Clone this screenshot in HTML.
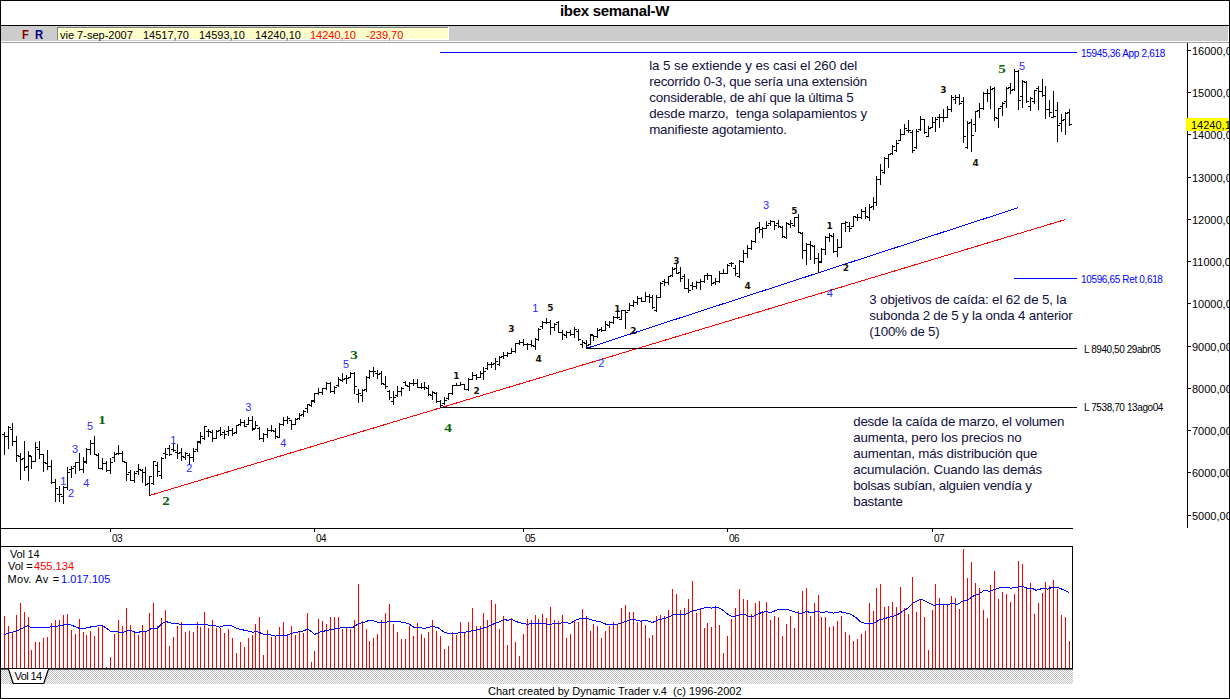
<!DOCTYPE html>
<html><head><meta charset="utf-8"><title>ibex semanal-W</title>
<style>
html,body{margin:0;padding:0;background:#fff;}
body{width:1230px;height:699px;overflow:hidden;position:relative;font-family:"Liberation Sans",sans-serif;}
#wrap{position:absolute;left:0;top:0;width:1230px;height:699px;overflow:hidden;background:#fff;}
svg{position:absolute;left:0;top:0;}
.t{position:absolute;white-space:nowrap;line-height:1;}
.ui{font-size:11px;color:#000;}
.note{position:absolute;font-size:13.33px;line-height:16px;color:#10103c;white-space:nowrap;}
.lab{font-family:"Liberation Sans",sans-serif;font-size:10px;}
</style></head><body><div id="wrap">

<svg width="1230" height="699" viewBox="0 0 1230 699" shape-rendering="crispEdges">
<defs><pattern id="dz" width="2" height="2" patternUnits="userSpaceOnUse"><rect width="2" height="2" fill="#fff"/><rect width="1" height="1" fill="#c0c0c0"/><rect x="1" y="1" width="1" height="1" fill="#c0c0c0"/></pattern></defs>
<rect x="0" y="0" width="1230" height="699" fill="#fff"/>
<rect x="0" y="0" width="1230" height="1" fill="#000"/>
<rect x="0" y="0" width="1" height="699" fill="#000"/>
<rect x="1229" y="0" width="1" height="699" fill="#000"/>
<rect x="0" y="698" width="1230" height="1" fill="#000"/>
<rect x="1" y="25" width="1228" height="1" fill="#000"/>
<rect x="1" y="26" width="1227" height="15" fill="#cccccc"/>
<rect x="1" y="41" width="1227" height="1" fill="#ffffff"/>
<rect x="1" y="42" width="1228" height="1" fill="#a0a0a0"/>
<rect x="57" y="27" width="392" height="13" fill="#ffffcc"/>
<rect x="57" y="27" width="391" height="1" fill="#808080"/>
<rect x="57" y="27" width="1" height="13" fill="#808080"/>
<rect x="58" y="39" width="391" height="1" fill="#fff"/>
<rect x="448" y="27" width="1" height="13" fill="#fff"/>
<rect x="1187" y="43" width="1" height="485" fill="#000"/>
<rect x="1188" y="50" width="3" height="1" fill="#000"/>
<rect x="1188" y="92" width="3" height="1" fill="#000"/>
<rect x="1188" y="134" width="3" height="1" fill="#000"/>
<rect x="1188" y="177" width="3" height="1" fill="#000"/>
<rect x="1188" y="219" width="3" height="1" fill="#000"/>
<rect x="1188" y="261" width="3" height="1" fill="#000"/>
<rect x="1188" y="303" width="3" height="1" fill="#000"/>
<rect x="1188" y="346" width="3" height="1" fill="#000"/>
<rect x="1188" y="388" width="3" height="1" fill="#000"/>
<rect x="1188" y="430" width="3" height="1" fill="#000"/>
<rect x="1188" y="472" width="3" height="1" fill="#000"/>
<rect x="1188" y="515" width="3" height="1" fill="#000"/>
<rect x="1" y="528" width="1072" height="1" fill="#000"/>
<rect x="110" y="529" width="1" height="3" fill="#000"/>
<rect x="314" y="529" width="1" height="3" fill="#000"/>
<rect x="523" y="529" width="1" height="3" fill="#000"/>
<rect x="727" y="529" width="1" height="3" fill="#000"/>
<rect x="932" y="529" width="1" height="3" fill="#000"/>
<rect x="1" y="546" width="1072" height="1" fill="#000"/>
<rect x="1072" y="546" width="1" height="123" fill="#000"/>
<rect x="1" y="668" width="1072" height="1" fill="#000"/>
<rect x="1" y="669" width="1072" height="1" fill="#606060"/>
<rect x="1" y="670" width="1072" height="14" fill="url(#dz)"/>
<polygon points="8.5,669 48.5,669 43.8,683.5 13.2,683.5" fill="#fff" stroke="#000" stroke-width="1.2" shape-rendering="auto"/>
<rect x="9" y="669" width="39" height="1" fill="#fff"/>
<rect x="1" y="668" width="1072" height="1" fill="#000"/>
<rect x="440" y="52" width="637" height="1" fill="#0000ff"/>
<rect x="1014" y="278" width="63" height="1" fill="#0000ff"/>
<rect x="586" y="348" width="491" height="1" fill="#000"/>
<rect x="440" y="407" width="637" height="1" fill="#000"/>
<rect x="1186" y="118" width="43" height="13" fill="#ffff00"/>
<line x1="149.5" y1="495.5" x2="1065.5" y2="219.5" stroke="#ff0000" stroke-width="1"/>
<line x1="587.5" y1="348.0" x2="1018.5" y2="207.6" stroke="#0000ff" stroke-width="1"/>
<rect x="586" y="348" width="491" height="1" fill="#000"/><rect x="440" y="407" width="637" height="1" fill="#000"/>
<path d="M4 616h1V668h-1zM8 626h1V668h-1zM12 633h1V668h-1zM16 615h1V668h-1zM20 603h1V668h-1zM24 612h1V668h-1zM28 617h1V668h-1zM31 650h1V668h-1zM35 642h1V668h-1zM39 642h1V668h-1zM43 638h1V668h-1zM47 637h1V668h-1zM51 623h1V668h-1zM55 620h1V668h-1zM59 620h1V668h-1zM63 615h1V668h-1zM67 614h1V668h-1zM71 630h1V668h-1zM75 634h1V668h-1zM79 619h1V668h-1zM83 632h1V668h-1zM86 635h1V668h-1zM90 631h1V668h-1zM94 636h1V668h-1zM98 627h1V668h-1zM102 625h1V668h-1zM106 667h1V668h-1zM110 657h1V668h-1zM114 634h1V668h-1zM118 620h1V668h-1zM122 626h1V668h-1zM126 608h1V668h-1zM130 625h1V668h-1zM134 633h1V668h-1zM138 635h1V668h-1zM142 625h1V668h-1zM145 632h1V668h-1zM149 613h1V668h-1zM153 603h1V668h-1zM157 626h1V668h-1zM161 618h1V668h-1zM165 610h1V668h-1zM169 646h1V668h-1zM173 637h1V668h-1zM177 626h1V668h-1zM181 622h1V668h-1zM185 632h1V668h-1zM189 631h1V668h-1zM193 632h1V668h-1zM197 622h1V668h-1zM200 627h1V668h-1zM204 612h1V668h-1zM208 628h1V668h-1zM212 620h1V668h-1zM216 628h1V668h-1zM220 628h1V668h-1zM224 633h1V668h-1zM228 629h1V668h-1zM232 638h1V668h-1zM236 653h1V668h-1zM240 642h1V668h-1zM244 647h1V668h-1zM248 638h1V668h-1zM252 635h1V668h-1zM255 624h1V668h-1zM259 617h1V668h-1zM263 655h1V668h-1zM267 630h1V668h-1zM271 637h1V668h-1zM275 637h1V668h-1zM279 627h1V668h-1zM283 622h1V668h-1zM287 634h1V668h-1zM291 626h1V668h-1zM295 635h1V668h-1zM299 632h1V668h-1zM303 633h1V668h-1zM307 613h1V668h-1zM311 662h1V668h-1zM314 651h1V668h-1zM318 619h1V668h-1zM322 621h1V668h-1zM326 624h1V668h-1zM330 617h1V668h-1zM334 617h1V668h-1zM338 617h1V668h-1zM342 629h1V668h-1zM346 628h1V668h-1zM350 629h1V668h-1zM354 620h1V668h-1zM358 584h1V668h-1zM362 621h1V668h-1zM366 629h1V668h-1zM369 641h1V668h-1zM373 638h1V668h-1zM377 634h1V668h-1zM381 620h1V668h-1zM385 613h1V668h-1zM389 604h1V668h-1zM393 624h1V668h-1zM397 632h1V668h-1zM401 639h1V668h-1zM405 639h1V668h-1zM409 626h1V668h-1zM413 636h1V668h-1zM417 623h1V668h-1zM421 634h1V668h-1zM424 638h1V668h-1zM428 632h1V668h-1zM432 620h1V668h-1zM436 631h1V668h-1zM440 636h1V668h-1zM444 649h1V668h-1zM448 646h1V668h-1zM452 632h1V668h-1zM456 635h1V668h-1zM460 622h1V668h-1zM464 633h1V668h-1zM468 622h1V668h-1zM472 608h1V668h-1zM476 626h1V668h-1zM480 626h1V668h-1zM483 613h1V668h-1zM487 620h1V668h-1zM491 600h1V668h-1zM495 604h1V668h-1zM499 629h1V668h-1zM503 616h1V668h-1zM507 645h1V668h-1zM511 618h1V668h-1zM515 642h1V668h-1zM519 656h1V668h-1zM523 634h1V668h-1zM527 619h1V668h-1zM531 620h1V668h-1zM535 615h1V668h-1zM538 619h1V668h-1zM542 614h1V668h-1zM546 618h1V668h-1zM550 607h1V668h-1zM554 620h1V668h-1zM558 621h1V668h-1zM562 615h1V668h-1zM566 638h1V668h-1zM570 634h1V668h-1zM574 621h1V668h-1zM578 622h1V668h-1zM582 609h1V668h-1zM586 616h1V668h-1zM590 631h1V668h-1zM593 624h1V668h-1zM597 626h1V668h-1zM601 638h1V668h-1zM605 631h1V668h-1zM609 626h1V668h-1zM613 622h1V668h-1zM617 624h1V668h-1zM621 608h1V668h-1zM625 605h1V668h-1zM629 612h1V668h-1zM633 612h1V668h-1zM637 622h1V668h-1zM641 620h1V668h-1zM645 625h1V668h-1zM649 638h1V668h-1zM652 635h1V668h-1zM656 616h1V668h-1zM660 615h1V668h-1zM664 616h1V668h-1zM668 610h1V668h-1zM672 589h1V668h-1zM676 594h1V668h-1zM680 610h1V668h-1zM684 608h1V668h-1zM688 599h1V668h-1zM692 581h1V668h-1zM696 613h1V668h-1zM700 608h1V668h-1zM704 628h1V668h-1zM707 623h1V668h-1zM711 627h1V668h-1zM715 606h1V668h-1zM719 625h1V668h-1zM723 653h1V668h-1zM727 636h1V668h-1zM731 619h1V668h-1zM735 608h1V668h-1zM739 589h1V668h-1zM743 599h1V668h-1zM747 600h1V668h-1zM751 614h1V668h-1zM755 603h1V668h-1zM759 601h1V668h-1zM762 611h1V668h-1zM766 602h1V668h-1zM770 620h1V668h-1zM774 616h1V668h-1zM778 617h1V668h-1zM782 636h1V668h-1zM786 624h1V668h-1zM790 616h1V668h-1zM794 628h1V668h-1zM798 611h1V668h-1zM802 591h1V668h-1zM806 588h1V668h-1zM810 616h1V668h-1zM814 603h1V668h-1zM818 595h1V668h-1zM821 617h1V668h-1zM825 617h1V668h-1zM829 627h1V668h-1zM833 626h1V668h-1zM837 621h1V668h-1zM841 616h1V668h-1zM845 632h1V668h-1zM849 635h1V668h-1zM853 641h1V668h-1zM857 639h1V668h-1zM861 634h1V668h-1zM865 631h1V668h-1zM869 603h1V668h-1zM873 611h1V668h-1zM876 588h1V668h-1zM880 584h1V668h-1zM884 607h1V668h-1zM888 606h1V668h-1zM892 602h1V668h-1zM896 607h1V668h-1zM900 587h1V668h-1zM904 608h1V668h-1zM908 614h1V668h-1zM912 577h1V668h-1zM916 612h1V668h-1zM920 600h1V668h-1zM924 617h1V668h-1zM928 650h1V668h-1zM932 610h1V668h-1zM935 584h1V668h-1zM939 598h1V668h-1zM943 604h1V668h-1zM947 604h1V668h-1zM951 596h1V668h-1zM955 598h1V668h-1zM959 609h1V668h-1zM963 549h1V668h-1zM967 578h1V668h-1zM971 562h1V668h-1zM975 583h1V668h-1zM979 588h1V668h-1zM983 610h1V668h-1zM987 618h1V668h-1zM990 585h1V668h-1zM994 571h1V668h-1zM998 599h1V668h-1zM1002 592h1V668h-1zM1006 594h1V668h-1zM1010 602h1V668h-1zM1014 594h1V668h-1zM1018 561h1V668h-1zM1022 564h1V668h-1zM1026 588h1V668h-1zM1030 583h1V668h-1zM1034 614h1V668h-1zM1038 603h1V668h-1zM1042 593h1V668h-1zM1045 582h1V668h-1zM1049 586h1V668h-1zM1053 580h1V668h-1zM1057 589h1V668h-1zM1061 615h1V668h-1zM1065 617h1V668h-1zM1069 641h1V668h-1z" fill="#ff0000"/>
<polyline points="4.3,634.4 10.7,632.6 17.9,630.5 27.7,625.5 31.3,627.6 48.3,627.2 53.7,626.4 60.8,625.8 67.1,624.0 71.6,625.1 76.9,627.6 82.3,629.0 93.0,626.4 102.0,625.5 105.5,627.6 110.9,631.4 116.3,631.7 121.6,633.0 126.1,631.2 130.6,630.5 136.0,632.6 141.3,631.7 146.7,631.4 152.1,628.1 157.4,628.1 161.9,623.7 165.5,621.5 172.6,623.3 180.7,624.2 205.7,624.2 210.0,625.5 210.2,625.5 215.4,625.8 219.8,627.2 223.4,625.8 227.9,625.1 231.5,625.8 238.6,629.0 245.8,630.5 252.9,632.3 256.5,631.2 263.7,634.4 269.0,634.4 275.3,636.2 278.9,635.3 286.9,635.3 294.1,632.6 303.0,631.2 307.5,629.0 310.2,630.8 314.7,634.4 320.9,631.7 328.1,630.3 335.2,628.7 342.4,627.6 353.1,627.2 358.5,623.7 363.8,622.4 369.2,620.4 373.7,621.0 378.2,622.4 385.3,622.4 390.7,621.3 396.0,621.3 403.2,622.4 408.6,623.7 413.9,627.2 417.5,627.2 422.9,628.1 425.4,628.1 432.5,626.4 437.9,627.6 443.3,631.7 446.8,633.0 455.8,633.5 460.3,632.3 464.7,632.3 473.7,630.5 479.0,629.4 486.2,627.2 495.1,623.3 500.5,621.5 504.1,619.2 507.7,620.4 511.2,619.2 518.4,622.4 527.3,624.2 534.5,623.3 543.4,623.3 548.8,624.6 556.0,623.3 558.6,624.2 563.1,622.2 570.3,623.3 577.4,619.2 586.4,618.3 593.5,620.6 600.7,621.9 606.0,624.2 616.8,624.6 623.9,621.9 632.9,619.2 633.6,619.4 640.7,621.2 646.1,620.3 652.4,622.5 658.6,619.8 665.8,618.0 674.7,614.4 685.5,614.4 692.6,610.8 699.8,609.4 706.9,607.2 711.4,608.1 715.9,606.9 721.2,609.0 727.5,614.0 732.0,616.5 735.5,616.2 740.9,614.4 744.5,614.4 749.0,616.5 753.4,616.2 758.8,613.5 766.0,611.4 770.4,612.6 778.5,609.4 787.4,609.4 792.8,611.4 798.2,613.1 801.7,613.1 806.2,611.4 810.7,612.6 817.8,611.4 821.4,612.6 826.8,611.7 833.9,613.1 837.5,612.3 840.0,611.7 849.8,613.7 855.6,617.2 861.5,622.7 872.2,624.0 879.0,620.1 896.6,615.2 908.3,607.8 913.2,603.0 921.0,599.2 926.8,602.0 933.7,605.5 939.5,604.3 949.3,604.3 952.2,603.1 957.1,604.7 962.9,601.0 966.8,600.6 972.7,596.3 978.5,594.2 984.4,590.3 989.3,591.4 996.1,588.9 1002.0,587.3 1007.8,587.3 1010.7,588.3 1017.6,587.1 1022.4,586.4 1027.3,588.3 1032.2,588.3 1036.1,590.3 1042.9,588.3 1047.8,589.1 1052.7,587.1 1057.6,587.3 1064.4,590.3 1068.7,592.4" fill="none" stroke="#0000ff" stroke-width="1"/>
<path d="M4 432h1V455h-1zM2 434h2v1h-2zM5 436h2v1h-2zM8 426h1V449h-1zM6 436h2v1h-2zM9 427h2v1h-2zM12 423h1V446h-1zM10 429h2v1h-2zM13 441h2v1h-2zM16 436h1V462h-1zM14 441h2v1h-2zM17 455h2v1h-2zM20 453h1V480h-1zM18 456h2v1h-2zM21 459h2v1h-2zM24 441h1V471h-1zM22 458h2v1h-2zM25 467h2v1h-2zM28 451h1V481h-1zM26 466h2v1h-2zM29 455h2v1h-2zM31 456h1V469h-1zM29 456h2v1h-2zM32 461h2v1h-2zM35 442h1V462h-1zM33 461h2v1h-2zM36 447h2v1h-2zM39 441h1V459h-1zM37 449h2v1h-2zM40 454h2v1h-2zM43 454h1V472h-1zM41 454h2v1h-2zM44 462h2v1h-2zM47 450h1V470h-1zM45 463h2v1h-2zM48 466h2v1h-2zM51 460h1V484h-1zM49 466h2v1h-2zM52 482h2v1h-2zM55 479h1V502h-1zM53 482h2v1h-2zM56 488h2v1h-2zM59 486h1V502h-1zM57 494h2v1h-2zM60 494h2v1h-2zM63 486h1V504h-1zM61 496h2v1h-2zM64 487h2v1h-2zM67 467h1V490h-1zM65 487h2v1h-2zM68 472h2v1h-2zM71 466h1V478h-1zM69 469h2v1h-2zM72 468h2v1h-2zM75 462h1V474h-1zM73 466h2v1h-2zM76 462h2v1h-2zM79 453h1V471h-1zM77 462h2v1h-2zM80 469h2v1h-2zM83 457h1V473h-1zM81 469h2v1h-2zM84 462h2v1h-2zM86 448h1V464h-1zM84 461h2v1h-2zM87 449h2v1h-2zM90 440h1V455h-1zM88 449h2v1h-2zM91 443h2v1h-2zM94 436h1V455h-1zM92 443h2v1h-2zM95 454h2v1h-2zM98 453h1V469h-1zM96 455h2v1h-2zM99 468h2v1h-2zM102 458h1V470h-1zM100 468h2v1h-2zM103 463h2v1h-2zM106 461h1V472h-1zM104 463h2v1h-2zM107 470h2v1h-2zM110 458h1V474h-1zM108 470h2v1h-2zM111 462h2v1h-2zM114 452h1V462h-1zM112 457h2v1h-2zM115 454h2v1h-2zM118 445h1V455h-1zM116 453h2v1h-2zM119 453h2v1h-2zM122 451h1V462h-1zM120 453h2v1h-2zM123 461h2v1h-2zM126 462h1V481h-1zM124 462h2v1h-2zM127 474h2v1h-2zM130 470h1V481h-1zM128 472h2v1h-2zM131 480h2v1h-2zM134 471h1V483h-1zM132 480h2v1h-2zM135 473h2v1h-2zM138 464h1V475h-1zM136 471h2v1h-2zM139 469h2v1h-2zM142 469h1V483h-1zM140 470h2v1h-2zM143 472h2v1h-2zM145 467h1V486h-1zM143 472h2v1h-2zM146 484h2v1h-2zM149 476h1V496h-1zM147 483h2v1h-2zM150 476h2v1h-2zM153 461h1V485h-1zM151 483h2v1h-2zM154 461h2v1h-2zM157 462h1V477h-1zM155 465h2v1h-2zM158 471h2v1h-2zM161 457h1V479h-1zM159 475h2v1h-2zM162 458h2v1h-2zM165 448h1V459h-1zM163 453h2v1h-2zM166 454h2v1h-2zM169 445h1V456h-1zM167 448h2v1h-2zM170 454h2v1h-2zM173 443h1V452h-1zM171 449h2v1h-2zM174 450h2v1h-2zM177 444h1V459h-1zM175 452h2v1h-2zM178 453h2v1h-2zM181 448h1V461h-1zM179 452h2v1h-2zM182 456h2v1h-2zM185 452h1V460h-1zM183 457h2v1h-2zM186 453h2v1h-2zM189 453h1V465h-1zM187 455h2v1h-2zM190 457h2v1h-2zM193 448h1V462h-1zM191 457h2v1h-2zM194 451h2v1h-2zM197 441h1V452h-1zM195 449h2v1h-2zM198 442h2v1h-2zM200 432h1V444h-1zM198 441h2v1h-2zM201 436h2v1h-2zM204 426h1V440h-1zM202 438h2v1h-2zM205 426h2v1h-2zM208 429h1V437h-1zM206 431h2v1h-2zM209 431h2v1h-2zM212 430h1V442h-1zM210 432h2v1h-2zM213 438h2v1h-2zM216 430h1V439h-1zM214 438h2v1h-2zM217 431h2v1h-2zM220 427h1V436h-1zM218 430h2v1h-2zM221 434h2v1h-2zM224 430h1V439h-1zM222 432h2v1h-2zM225 434h2v1h-2zM228 426h1V436h-1zM226 431h2v1h-2zM229 430h2v1h-2zM232 428h1V436h-1zM230 430h2v1h-2zM233 433h2v1h-2zM236 425h1V434h-1zM234 432h2v1h-2zM237 425h2v1h-2zM240 419h1V426h-1zM238 424h2v1h-2zM241 422h2v1h-2zM244 420h1V427h-1zM242 422h2v1h-2zM245 426h2v1h-2zM248 417h1V425h-1zM246 424h2v1h-2zM249 420h2v1h-2zM252 416h1V431h-1zM250 420h2v1h-2zM253 429h2v1h-2zM255 421h1V429h-1zM253 428h2v1h-2zM256 425h2v1h-2zM259 427h1V440h-1zM257 428h2v1h-2zM260 438h2v1h-2zM263 433h1V442h-1zM261 438h2v1h-2zM264 434h2v1h-2zM267 428h1V438h-1zM265 434h2v1h-2zM268 430h2v1h-2zM271 425h1V432h-1zM269 430h2v1h-2zM272 430h2v1h-2zM275 428h1V439h-1zM273 431h2v1h-2zM276 436h2v1h-2zM279 423h1V438h-1zM277 437h2v1h-2zM280 424h2v1h-2zM283 417h1V426h-1zM281 424h2v1h-2zM284 420h2v1h-2zM287 416h1V424h-1zM285 420h2v1h-2zM288 418h2v1h-2zM291 420h1V430h-1zM289 420h2v1h-2zM292 424h2v1h-2zM295 418h1V425h-1zM293 424h2v1h-2zM296 419h2v1h-2zM299 413h1V420h-1zM297 418h2v1h-2zM300 415h2v1h-2zM303 410h1V417h-1zM301 414h2v1h-2zM304 411h2v1h-2zM307 404h1V413h-1zM305 408h2v1h-2zM308 404h2v1h-2zM311 400h1V407h-1zM309 405h2v1h-2zM312 401h2v1h-2zM314 393h1V403h-1zM312 400h2v1h-2zM315 393h2v1h-2zM318 388h1V395h-1zM316 393h2v1h-2zM319 392h2v1h-2zM322 388h1V395h-1zM320 392h2v1h-2zM323 388h2v1h-2zM326 382h1V390h-1zM324 388h2v1h-2zM327 383h2v1h-2zM330 382h1V393h-1zM328 383h2v1h-2zM331 391h2v1h-2zM334 386h1V394h-1zM332 391h2v1h-2zM335 387h2v1h-2zM338 377h1V387h-1zM336 385h2v1h-2zM339 379h2v1h-2zM342 373h1V382h-1zM340 380h2v1h-2zM343 379h2v1h-2zM346 375h1V384h-1zM344 378h2v1h-2zM347 378h2v1h-2zM350 372h1V378h-1zM348 377h2v1h-2zM351 373h2v1h-2zM354 372h1V394h-1zM352 373h2v1h-2zM355 386h2v1h-2zM358 389h1V403h-1zM356 394h2v1h-2zM359 393h2v1h-2zM362 389h1V402h-1zM360 395h2v1h-2zM363 390h2v1h-2zM366 376h1V392h-1zM364 389h2v1h-2zM367 377h2v1h-2zM369 370h1V379h-1zM367 377h2v1h-2zM370 371h2v1h-2zM373 367h1V377h-1zM371 371h2v1h-2zM374 371h2v1h-2zM377 370h1V379h-1zM375 373h2v1h-2zM378 374h2v1h-2zM381 371h1V385h-1zM379 373h2v1h-2zM382 383h2v1h-2zM385 376h1V389h-1zM383 384h2v1h-2zM386 386h2v1h-2zM389 390h1V400h-1zM387 391h2v1h-2zM390 397h2v1h-2zM393 391h1V405h-1zM391 401h2v1h-2zM394 397h2v1h-2zM397 386h1V397h-1zM395 395h2v1h-2zM398 391h2v1h-2zM401 387h1V396h-1zM399 391h2v1h-2zM402 388h2v1h-2zM405 381h1V386h-1zM403 382h2v1h-2zM406 385h2v1h-2zM409 382h1V391h-1zM407 386h2v1h-2zM410 383h2v1h-2zM413 379h1V386h-1zM411 383h2v1h-2zM414 383h2v1h-2zM417 379h1V388h-1zM415 383h2v1h-2zM418 387h2v1h-2zM421 383h1V389h-1zM419 387h2v1h-2zM422 387h2v1h-2zM424 382h1V390h-1zM422 387h2v1h-2zM425 387h2v1h-2zM428 385h1V396h-1zM426 388h2v1h-2zM429 394h2v1h-2zM432 391h1V400h-1zM430 395h2v1h-2zM433 392h2v1h-2zM436 392h1V403h-1zM434 393h2v1h-2zM437 401h2v1h-2zM440 400h1V408h-1zM438 401h2v1h-2zM441 405h2v1h-2zM444 397h1V405h-1zM442 403h2v1h-2zM445 400h2v1h-2zM448 393h1V400h-1zM446 398h2v1h-2zM449 393h2v1h-2zM452 385h1V395h-1zM450 393h2v1h-2zM453 385h2v1h-2zM456 383h1V386h-1zM454 385h2v1h-2zM457 385h2v1h-2zM460 382h1V386h-1zM458 385h2v1h-2zM461 384h2v1h-2zM464 384h1V390h-1zM462 384h2v1h-2zM465 389h2v1h-2zM468 378h1V391h-1zM466 389h2v1h-2zM469 379h2v1h-2zM472 372h1V380h-1zM470 379h2v1h-2zM473 375h2v1h-2zM476 374h1V380h-1zM474 375h2v1h-2zM477 377h2v1h-2zM480 371h1V378h-1zM478 377h2v1h-2zM481 373h2v1h-2zM483 367h1V380h-1zM481 373h2v1h-2zM484 371h2v1h-2zM487 362h1V370h-1zM485 368h2v1h-2zM488 364h2v1h-2zM491 362h1V368h-1zM489 364h2v1h-2zM492 364h2v1h-2zM495 358h1V370h-1zM493 363h2v1h-2zM496 361h2v1h-2zM499 356h1V366h-1zM497 364h2v1h-2zM500 357h2v1h-2zM503 352h1V359h-1zM501 356h2v1h-2zM504 355h2v1h-2zM507 352h1V357h-1zM505 355h2v1h-2zM508 353h2v1h-2zM511 348h1V354h-1zM509 353h2v1h-2zM512 351h2v1h-2zM515 343h1V353h-1zM513 351h2v1h-2zM516 343h2v1h-2zM519 340h1V345h-1zM517 343h2v1h-2zM520 342h2v1h-2zM523 339h1V346h-1zM521 342h2v1h-2zM524 344h2v1h-2zM527 343h1V350h-1zM525 344h2v1h-2zM528 344h2v1h-2zM531 340h1V347h-1zM529 344h2v1h-2zM532 345h2v1h-2zM535 338h1V350h-1zM533 346h2v1h-2zM536 339h2v1h-2zM538 328h1V341h-1zM536 339h2v1h-2zM539 329h2v1h-2zM542 321h1V329h-1zM540 326h2v1h-2zM543 322h2v1h-2zM546 318h1V324h-1zM544 322h2v1h-2zM547 322h2v1h-2zM550 320h1V335h-1zM548 322h2v1h-2zM551 327h2v1h-2zM554 323h1V331h-1zM552 327h2v1h-2zM555 324h2v1h-2zM558 321h1V333h-1zM556 322h2v1h-2zM559 332h2v1h-2zM562 330h1V340h-1zM560 332h2v1h-2zM563 334h2v1h-2zM566 331h1V338h-1zM564 335h2v1h-2zM567 332h2v1h-2zM570 330h1V336h-1zM568 332h2v1h-2zM571 334h2v1h-2zM574 327h1V338h-1zM572 334h2v1h-2zM575 329h2v1h-2zM578 329h1V341h-1zM576 331h2v1h-2zM579 339h2v1h-2zM582 340h1V348h-1zM580 344h2v1h-2zM583 342h2v1h-2zM586 340h1V349h-1zM584 343h2v1h-2zM587 345h2v1h-2zM590 334h1V345h-1zM588 344h2v1h-2zM591 334h2v1h-2zM593 335h1V341h-1zM591 335h2v1h-2zM594 336h2v1h-2zM597 328h1V338h-1zM595 336h2v1h-2zM598 330h2v1h-2zM601 327h1V332h-1zM599 329h2v1h-2zM602 330h2v1h-2zM605 321h1V331h-1zM603 330h2v1h-2zM606 324h2v1h-2zM609 321h1V328h-1zM607 325h2v1h-2zM610 322h2v1h-2zM613 316h1V324h-1zM611 322h2v1h-2zM614 317h2v1h-2zM617 307h1V319h-1zM615 317h2v1h-2zM618 317h2v1h-2zM621 310h1V320h-1zM619 319h2v1h-2zM622 310h2v1h-2zM625 310h1V329h-1zM623 310h2v1h-2zM626 312h2v1h-2zM629 303h1V311h-1zM627 310h2v1h-2zM630 305h2v1h-2zM633 300h1V307h-1zM631 305h2v1h-2zM634 302h2v1h-2zM637 296h1V305h-1zM635 302h2v1h-2zM638 298h2v1h-2zM641 297h1V302h-1zM639 298h2v1h-2zM642 301h2v1h-2zM645 292h1V302h-1zM643 301h2v1h-2zM646 296h2v1h-2zM649 294h1V303h-1zM647 296h2v1h-2zM650 297h2v1h-2zM652 295h1V309h-1zM650 297h2v1h-2zM653 307h2v1h-2zM656 295h1V312h-1zM654 310h2v1h-2zM657 297h2v1h-2zM660 282h1V298h-1zM658 297h2v1h-2zM661 283h2v1h-2zM664 279h1V286h-1zM662 281h2v1h-2zM665 282h2v1h-2zM668 276h1V285h-1zM666 282h2v1h-2zM669 276h2v1h-2zM672 267h1V277h-1zM670 275h2v1h-2zM673 269h2v1h-2zM676 264h1V274h-1zM674 268h2v1h-2zM677 273h2v1h-2zM680 267h1V282h-1zM678 272h2v1h-2zM681 278h2v1h-2zM684 274h1V289h-1zM682 276h2v1h-2zM685 288h2v1h-2zM688 279h1V293h-1zM686 288h2v1h-2zM689 290h2v1h-2zM692 282h1V290h-1zM690 285h2v1h-2zM693 286h2v1h-2zM696 281h1V289h-1zM694 286h2v1h-2zM697 282h2v1h-2zM700 279h1V290h-1zM698 282h2v1h-2zM701 281h2v1h-2zM704 275h1V283h-1zM702 281h2v1h-2zM705 275h2v1h-2zM707 273h1V280h-1zM705 275h2v1h-2zM708 275h2v1h-2zM711 275h1V286h-1zM709 275h2v1h-2zM712 283h2v1h-2zM715 278h1V285h-1zM713 282h2v1h-2zM716 281h2v1h-2zM719 271h1V283h-1zM717 281h2v1h-2zM720 273h2v1h-2zM723 269h1V274h-1zM721 273h2v1h-2zM724 273h2v1h-2zM727 264h1V274h-1zM725 273h2v1h-2zM728 265h2v1h-2zM731 262h1V267h-1zM729 263h2v1h-2zM732 263h2v1h-2zM735 265h1V276h-1zM733 268h2v1h-2zM736 273h2v1h-2zM739 260h1V278h-1zM737 276h2v1h-2zM740 261h2v1h-2zM743 250h1V263h-1zM741 261h2v1h-2zM744 253h2v1h-2zM747 245h1V258h-1zM745 253h2v1h-2zM748 248h2v1h-2zM751 240h1V250h-1zM749 248h2v1h-2zM752 241h2v1h-2zM755 228h1V243h-1zM753 241h2v1h-2zM756 228h2v1h-2zM759 222h1V233h-1zM757 227h2v1h-2zM760 229h2v1h-2zM762 227h1V238h-1zM760 229h2v1h-2zM763 228h2v1h-2zM766 221h1V229h-1zM764 228h2v1h-2zM767 225h2v1h-2zM770 220h1V226h-1zM768 223h2v1h-2zM771 221h2v1h-2zM774 221h1V230h-1zM772 221h2v1h-2zM775 225h2v1h-2zM778 220h1V228h-1zM776 223h2v1h-2zM779 226h2v1h-2zM782 226h1V238h-1zM780 227h2v1h-2zM783 236h2v1h-2zM786 222h1V239h-1zM784 237h2v1h-2zM787 223h2v1h-2zM790 220h1V228h-1zM788 224h2v1h-2zM791 223h2v1h-2zM794 217h1V227h-1zM792 225h2v1h-2zM795 217h2v1h-2zM798 214h1V233h-1zM796 217h2v1h-2zM799 232h2v1h-2zM802 232h1V259h-1zM800 233h2v1h-2zM803 250h2v1h-2zM806 243h1V265h-1zM804 250h2v1h-2zM807 244h2v1h-2zM810 241h1V260h-1zM808 244h2v1h-2zM811 245h2v1h-2zM814 245h1V264h-1zM812 246h2v1h-2zM815 258h2v1h-2zM818 253h1V273h-1zM816 258h2v1h-2zM819 262h2v1h-2zM821 248h1V263h-1zM819 261h2v1h-2zM822 249h2v1h-2zM825 236h1V255h-1zM823 249h2v1h-2zM826 237h2v1h-2zM829 233h1V242h-1zM827 237h2v1h-2zM830 235h2v1h-2zM833 233h1V253h-1zM831 236h2v1h-2zM834 251h2v1h-2zM837 239h1V257h-1zM835 251h2v1h-2zM838 247h2v1h-2zM841 223h1V248h-1zM839 247h2v1h-2zM842 223h2v1h-2zM845 221h1V232h-1zM843 223h2v1h-2zM846 222h2v1h-2zM849 222h1V232h-1zM847 226h2v1h-2zM850 228h2v1h-2zM853 216h1V227h-1zM851 226h2v1h-2zM854 216h2v1h-2zM857 214h1V221h-1zM855 217h2v1h-2zM858 217h2v1h-2zM861 209h1V219h-1zM859 217h2v1h-2zM862 211h2v1h-2zM865 207h1V219h-1zM863 211h2v1h-2zM866 216h2v1h-2zM869 204h1V221h-1zM867 217h2v1h-2zM870 207h2v1h-2zM873 197h1V210h-1zM871 206h2v1h-2zM874 202h2v1h-2zM876 176h1V206h-1zM874 202h2v1h-2zM877 179h2v1h-2zM880 164h1V185h-1zM878 179h2v1h-2zM881 170h2v1h-2zM884 157h1V174h-1zM882 172h2v1h-2zM885 158h2v1h-2zM888 154h1V168h-1zM886 158h2v1h-2zM889 154h2v1h-2zM892 145h1V155h-1zM890 153h2v1h-2zM893 146h2v1h-2zM896 140h1V152h-1zM894 150h2v1h-2zM897 143h2v1h-2zM900 129h1V141h-1zM898 140h2v1h-2zM901 134h2v1h-2zM904 124h1V135h-1zM902 134h2v1h-2zM905 128h2v1h-2zM908 120h1V133h-1zM906 130h2v1h-2zM909 130h2v1h-2zM912 130h1V153h-1zM910 132h2v1h-2zM913 150h2v1h-2zM916 129h1V149h-1zM914 147h2v1h-2zM917 131h2v1h-2zM920 116h1V131h-1zM918 129h2v1h-2zM921 119h2v1h-2zM924 119h1V134h-1zM922 119h2v1h-2zM925 132h2v1h-2zM928 126h1V137h-1zM926 136h2v1h-2zM929 128h2v1h-2zM932 117h1V128h-1zM930 127h2v1h-2zM933 122h2v1h-2zM935 117h1V132h-1zM933 122h2v1h-2zM936 119h2v1h-2zM939 114h1V128h-1zM937 117h2v1h-2zM940 117h2v1h-2zM943 109h1V122h-1zM941 117h2v1h-2zM944 117h2v1h-2zM947 106h1V118h-1zM945 117h2v1h-2zM948 109h2v1h-2zM951 95h1V112h-1zM949 109h2v1h-2zM952 97h2v1h-2zM955 95h1V104h-1zM953 99h2v1h-2zM956 97h2v1h-2zM959 94h1V105h-1zM957 97h2v1h-2zM960 103h2v1h-2zM963 97h1V143h-1zM961 101h2v1h-2zM964 136h2v1h-2zM967 121h1V149h-1zM965 147h2v1h-2zM968 123h2v1h-2zM971 119h1V152h-1zM969 122h2v1h-2zM972 135h2v1h-2zM975 111h1V132h-1zM973 124h2v1h-2zM976 111h2v1h-2zM979 103h1V118h-1zM977 110h2v1h-2zM980 108h2v1h-2zM983 92h1V110h-1zM981 108h2v1h-2zM984 93h2v1h-2zM987 89h1V102h-1zM985 93h2v1h-2zM988 93h2v1h-2zM990 86h1V109h-1zM988 93h2v1h-2zM991 89h2v1h-2zM994 87h1V121h-1zM992 88h2v1h-2zM995 117h2v1h-2zM998 108h1V128h-1zM996 118h2v1h-2zM999 108h2v1h-2zM1002 102h1V116h-1zM1000 106h2v1h-2zM1003 103h2v1h-2zM1006 87h1V108h-1zM1004 101h2v1h-2zM1007 88h2v1h-2zM1010 83h1V94h-1zM1008 87h2v1h-2zM1011 90h2v1h-2zM1014 69h1V91h-1zM1012 89h2v1h-2zM1015 71h2v1h-2zM1018 70h1V110h-1zM1016 71h2v1h-2zM1019 100h2v1h-2zM1022 80h1V108h-1zM1020 96h2v1h-2zM1023 81h2v1h-2zM1026 81h1V103h-1zM1024 82h2v1h-2zM1027 101h2v1h-2zM1030 97h1V111h-1zM1028 106h2v1h-2zM1031 98h2v1h-2zM1034 90h1V104h-1zM1032 101h2v1h-2zM1035 90h2v1h-2zM1038 86h1V110h-1zM1036 88h2v1h-2zM1039 91h2v1h-2zM1042 79h1V97h-1zM1040 91h2v1h-2zM1043 95h2v1h-2zM1045 86h1V119h-1zM1043 95h2v1h-2zM1046 109h2v1h-2zM1049 100h1V117h-1zM1047 109h2v1h-2zM1050 112h2v1h-2zM1053 91h1V118h-1zM1051 117h2v1h-2zM1054 116h2v1h-2zM1057 102h1V142h-1zM1055 110h2v1h-2zM1058 125h2v1h-2zM1061 114h1V132h-1zM1059 123h2v1h-2zM1062 120h2v1h-2zM1065 112h1V135h-1zM1063 119h2v1h-2zM1066 113h2v1h-2zM1069 109h1V126h-1zM1067 112h2v1h-2zM1070 124h2v1h-2z" fill="#000"/>
</svg>
<div class="t " style="left:560px;top:3px;font-weight:bold;font-size:15px;letter-spacing:-0.3px;color:#000;">ibex semanal-W</div>
<div class="t " style="left:21.7px;top:28.5px;font-weight:bold;font-size:12.5px;color:#800000;transform:scaleX(0.9);transform-origin:0 0;">F</div>
<div class="t " style="left:34.5px;top:28.5px;font-weight:bold;font-size:12.5px;color:#000080;transform:scaleX(0.9);transform-origin:0 0;">R</div>
<div class="t ui" style="left:60px;top:30px;">vie 7-sep-2007</div>
<div class="t ui" style="left:143px;top:30px;">14517,70</div>
<div class="t ui" style="left:199px;top:30px;">14593,10</div>
<div class="t ui" style="left:255px;top:30px;">14240,10</div>
<div class="t ui" style="left:310px;top:30px;color:#ff0000;">14240,10</div>
<div class="t ui" style="left:366px;top:30px;color:#ff0000;">-239,70</div>
<div class="t ui" style="left:1192px;top:46px;width:37px;overflow:hidden;">16000,0</div>
<div class="t ui" style="left:1192px;top:88px;width:37px;overflow:hidden;">15000,0</div>
<div class="t ui" style="left:1192px;top:130px;width:37px;overflow:hidden;">14000,0</div>
<div class="t ui" style="left:1192px;top:173px;width:37px;overflow:hidden;">13000,0</div>
<div class="t ui" style="left:1192px;top:215px;width:37px;overflow:hidden;">12000,0</div>
<div class="t ui" style="left:1192px;top:257px;width:37px;overflow:hidden;">11000,0</div>
<div class="t ui" style="left:1192px;top:299px;width:37px;overflow:hidden;">10000,0</div>
<div class="t ui" style="left:1192px;top:342px;width:37px;overflow:hidden;">9000,00</div>
<div class="t ui" style="left:1192px;top:384px;width:37px;overflow:hidden;">8000,00</div>
<div class="t ui" style="left:1192px;top:426px;width:37px;overflow:hidden;">7000,00</div>
<div class="t ui" style="left:1192px;top:468px;width:37px;overflow:hidden;">6000,00</div>
<div class="t ui" style="left:1192px;top:511px;width:37px;overflow:hidden;">5000,00</div>
<div class="t ui" style="left:1191px;top:120px;width:38px;overflow:hidden;">14240,1</div>
<div class="t " style="left:112px;top:533.6px;font-size:10px;letter-spacing:-0.6px;color:#000;">03</div>
<div class="t " style="left:316px;top:533.6px;font-size:10px;letter-spacing:-0.6px;color:#000;">04</div>
<div class="t " style="left:525px;top:533.6px;font-size:10px;letter-spacing:-0.6px;color:#000;">05</div>
<div class="t " style="left:729px;top:533.6px;font-size:10px;letter-spacing:-0.6px;color:#000;">06</div>
<div class="t " style="left:934px;top:533.6px;font-size:10px;letter-spacing:-0.6px;color:#000;">07</div>
<div class="t lab" style="left:1081px;top:48.6px;color:#0000ff;letter-spacing:-0.3px;">15945,36 App 2,618</div>
<div class="t lab" style="left:1081px;top:275px;color:#0000ff;letter-spacing:-0.35px;">10596,65 Ret 0,618</div>
<div class="t lab" style="left:1084px;top:344.5px;color:#000;letter-spacing:-0.42px;">L 8940,50 29abr05</div>
<div class="t lab" style="left:1084px;top:403.2px;color:#000;letter-spacing:-0.4px;">L 7538,70 13ago04</div>
<div class="t ui" style="left:10px;top:549px;letter-spacing:-0.2px;">Vol 14</div>
<div class="t ui" style="left:8px;top:561px;">Vol =</div>
<div class="t ui" style="left:34px;top:561px;color:#ff0000;letter-spacing:0.05px;">455.134</div>
<div class="t ui" style="left:7.5px;top:574px;letter-spacing:0.3px;word-spacing:0.8px;">Mov. Av =</div>
<div class="t ui" style="left:61px;top:574px;color:#0000ff;letter-spacing:0.05px;">1.017.105</div>
<div class="t ui" style="left:14.5px;top:671px;letter-spacing:-0.6px;">Vol 14</div>
<div class="t ui" style="left:488px;top:686px;">Chart created by Dynamic Trader v.4&nbsp; (c) 1996-2002</div>
<div class="note" style="left:649.2px;top:57.6px;letter-spacing:-0.064px;">la 5 se extiende y es casi el 260 del</div>
<div class="note" style="left:649.2px;top:73.6px;letter-spacing:-0.197px;">recorrido 0-3, que sería una extensión</div>
<div class="note" style="left:649.2px;top:89.6px;letter-spacing:-0.169px;">considerable, de ahí que la última 5</div>
<div class="note" style="left:649.2px;top:105.6px;letter-spacing:-0.106px;">desde marzo,&nbsp; tenga solapamientos y</div>
<div class="note" style="left:649.2px;top:121.6px;letter-spacing:-0.173px;">manifieste agotamiento.</div>
<div class="note" style="left:869.3px;top:291.6px;letter-spacing:-0.143px;">3 objetivos de caída: el 62 de 5, la</div>
<div class="note" style="left:869.3px;top:307.6px;letter-spacing:-0.188px;">subonda 2 de 5 y la onda 4 anterior</div>
<div class="note" style="left:869.3px;top:323.6px;letter-spacing:-0.22px;">(100% de 5)</div>
<div class="note" style="left:853.2px;top:413.6px;letter-spacing:-0.194px;">desde la caída de marzo, el volumen</div>
<div class="note" style="left:853.2px;top:429.6px;letter-spacing:-0.124px;">aumenta, pero los precios no</div>
<div class="note" style="left:853.2px;top:445.6px;letter-spacing:-0.159px;">aumentan, más distribución que</div>
<div class="note" style="left:853.2px;top:461.6px;letter-spacing:-0.155px;">acumulación. Cuando las demás</div>
<div class="note" style="left:853.2px;top:477.6px;letter-spacing:-0.27px;">bolsas subían, alguien vendía y</div>
<div class="note" style="left:853.2px;top:493.6px;letter-spacing:-0.2px;">bastante</div>
<div class="t" style="left:53.3px;width:20px;text-align:center;top:476px;font-size:11px;color:#2a2aff;">1</div>
<div class="t" style="left:61px;width:20px;text-align:center;top:488px;font-size:11px;color:#2a2aff;">2</div>
<div class="t" style="left:65px;width:20px;text-align:center;top:444px;font-size:11px;color:#2a2aff;">3</div>
<div class="t" style="left:76.4px;width:20px;text-align:center;top:478px;font-size:11px;color:#2a2aff;">4</div>
<div class="t" style="left:80px;width:20px;text-align:center;top:421px;font-size:11px;color:#2a2aff;">5</div>
<div class="t" style="left:163.2px;width:20px;text-align:center;top:435px;font-size:11px;color:#2a2aff;">1</div>
<div class="t" style="left:179.3px;width:20px;text-align:center;top:463px;font-size:11px;color:#2a2aff;">2</div>
<div class="t" style="left:238.3px;width:20px;text-align:center;top:402px;font-size:11px;color:#2a2aff;">3</div>
<div class="t" style="left:273.4px;width:20px;text-align:center;top:438px;font-size:11px;color:#2a2aff;">4</div>
<div class="t" style="left:336.1px;width:20px;text-align:center;top:359px;font-size:11px;color:#2a2aff;">5</div>
<div class="t" style="left:525.3px;width:20px;text-align:center;top:303px;font-size:11px;color:#2a2aff;">1</div>
<div class="t" style="left:591.2px;width:20px;text-align:center;top:358px;font-size:11px;color:#2a2aff;">2</div>
<div class="t" style="left:756px;width:20px;text-align:center;top:200px;font-size:11px;color:#2a2aff;">3</div>
<div class="t" style="left:819.7px;width:20px;text-align:center;top:288px;font-size:11px;color:#2a2aff;">4</div>
<div class="t" style="left:1012.1px;width:20px;text-align:center;top:60.599999999999994px;font-size:11px;color:#2a2aff;">5</div>
<div class="t" style="left:92px;width:20px;text-align:center;top:412.7px;font-size:13.5px;transform:scaleX(1.12);font-weight:bold;font-family:'Liberation Serif',serif;color:#0a640a;">1</div>
<div class="t" style="left:155.5px;width:20px;text-align:center;top:493.7px;font-size:13.5px;transform:scaleX(1.12);font-weight:bold;font-family:'Liberation Serif',serif;color:#0a640a;">2</div>
<div class="t" style="left:344.3px;width:20px;text-align:center;top:348.2px;font-size:13.5px;transform:scaleX(1.12);font-weight:bold;font-family:'Liberation Serif',serif;color:#0a640a;">3</div>
<div class="t" style="left:438.2px;width:20px;text-align:center;top:420.7px;font-size:13.5px;transform:scaleX(1.12);font-weight:bold;font-family:'Liberation Serif',serif;color:#0a640a;">4</div>
<div class="t" style="left:992.2px;width:20px;text-align:center;top:61.7px;font-size:13.5px;transform:scaleX(1.12);font-weight:bold;font-family:'Liberation Serif',serif;color:#0a640a;">5</div>
<div class="t" style="left:446.3px;width:20px;text-align:center;top:372px;font-size:9px;font-weight:bold;font-family:'DejaVu Sans',sans-serif;color:#1a1208;">1</div>
<div class="t" style="left:466.7px;width:20px;text-align:center;top:387px;font-size:9px;font-weight:bold;font-family:'DejaVu Sans',sans-serif;color:#1a1208;">2</div>
<div class="t" style="left:501.3px;width:20px;text-align:center;top:325px;font-size:9px;font-weight:bold;font-family:'DejaVu Sans',sans-serif;color:#1a1208;">3</div>
<div class="t" style="left:528.6px;width:20px;text-align:center;top:354.8px;font-size:9px;font-weight:bold;font-family:'DejaVu Sans',sans-serif;color:#1a1208;">4</div>
<div class="t" style="left:540.5px;width:20px;text-align:center;top:304px;font-size:9px;font-weight:bold;font-family:'DejaVu Sans',sans-serif;color:#1a1208;">5</div>
<div class="t" style="left:607.3px;width:20px;text-align:center;top:305px;font-size:9px;font-weight:bold;font-family:'DejaVu Sans',sans-serif;color:#1a1208;">1</div>
<div class="t" style="left:623.5px;width:20px;text-align:center;top:326.8px;font-size:9px;font-weight:bold;font-family:'DejaVu Sans',sans-serif;color:#1a1208;">2</div>
<div class="t" style="left:666.3px;width:20px;text-align:center;top:256.7px;font-size:9px;font-weight:bold;font-family:'DejaVu Sans',sans-serif;color:#1a1208;">3</div>
<div class="t" style="left:737.6px;width:20px;text-align:center;top:282px;font-size:9px;font-weight:bold;font-family:'DejaVu Sans',sans-serif;color:#1a1208;">4</div>
<div class="t" style="left:784.4px;width:20px;text-align:center;top:207px;font-size:9px;font-weight:bold;font-family:'DejaVu Sans',sans-serif;color:#1a1208;">5</div>
<div class="t" style="left:819.6px;width:20px;text-align:center;top:222px;font-size:9px;font-weight:bold;font-family:'DejaVu Sans',sans-serif;color:#1a1208;">1</div>
<div class="t" style="left:836px;width:20px;text-align:center;top:264.2px;font-size:9px;font-weight:bold;font-family:'DejaVu Sans',sans-serif;color:#1a1208;">2</div>
<div class="t" style="left:933.4px;width:20px;text-align:center;top:85.9px;font-size:9px;font-weight:bold;font-family:'DejaVu Sans',sans-serif;color:#1a1208;">3</div>
<div class="t" style="left:965.6px;width:20px;text-align:center;top:159px;font-size:9px;font-weight:bold;font-family:'DejaVu Sans',sans-serif;color:#1a1208;">4</div>
</div></body></html>
